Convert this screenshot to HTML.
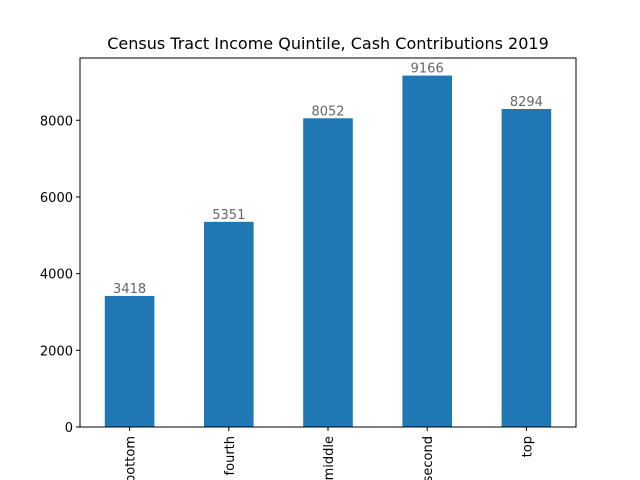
<!DOCTYPE html>
<html><head><meta charset="utf-8"><style>
html,body{margin:0;padding:0;background:#fff;overflow:hidden}
svg{display:block;font-family:"DejaVu Sans","Liberation Sans",sans-serif}
</style></head><body>
<svg id="chart" width="640" height="480" viewBox="0 0 640 480" xmlns="http://www.w3.org/2000/svg">
<rect width="640" height="480" fill="#fff"/>
<text x="328" y="49" font-size="16" text-anchor="middle" fill="#000">Census Tract Income Quintile, Cash Contributions 2019</text>
<g id="bars"></g><g id="yticks"></g><g id="xticks"></g>
<rect x="80" y="58" width="496" height="369" fill="none" stroke="#000" stroke-width="1"/>
</svg>
<script>
const categories = ["bottom","fourth","middle","second","top"];
const values = [3418,5351,8052,9166,8294];
const yTicks = [0,2000,4000,6000,8000];
const L=80,R=576,T=58,B=427;
const yMax=Math.max(...values)*1.05;
const x=i=>L+(i+0.5)*(R-L)/categories.length;
const y=v=>B-v/yMax*(B-T);
const ns="http://www.w3.org/2000/svg";
const bw=0.5*(R-L)/categories.length;
const gb=document.getElementById('bars'),gy=document.getElementById('yticks'),gx=document.getElementById('xticks');
function mk(tag,attrs,parent,txt){const e=document.createElementNS(ns,tag);for(const k in attrs)e.setAttribute(k,attrs[k]);if(txt!=null)e.textContent=txt;parent.appendChild(e);return e;}
values.forEach((v,i)=>{
  const r=mk('rect',{x:x(i)-bw/2,y:y(v),width:bw,height:B-y(v),fill:'#1f77b4'},gb);
  
  
  const t=mk('text',{x:x(i),y:y(v)-3,'font-size':13,'text-anchor':'middle',fill:'#666'},gb,String(v));
  
  
  const tk=mk('line',{x1:x(i),x2:x(i),y1:B,y2:B+4,stroke:'#000'},gx);
  
  
  const lx=mk('text',{x:0,y:0,'font-size':13,'text-anchor':'end',fill:'#000',transform:`translate(${x(i)+5},${B+9}) rotate(-90)`},gx,categories[i]);
  
  
});
yTicks.forEach(v=>{
  const tk=mk('line',{x1:L-4,x2:L,y1:y(v),y2:y(v),stroke:'#000'},gy);
  
  
  const t=mk('text',{x:L-7,y:y(v)+5,'font-size':13,'text-anchor':'end',fill:'#000'},gy,String(v));
  
  
});
</script>
</body></html>
